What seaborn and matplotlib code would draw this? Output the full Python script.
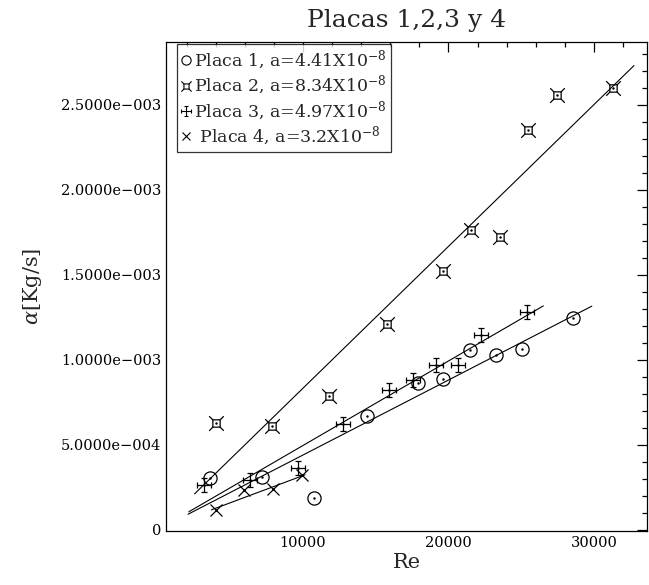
import matplotlib
matplotlib.use("Agg")
import matplotlib.pyplot as plt
from matplotlib.path import Path
from matplotlib.lines import Line2D
from matplotlib.ticker import MultipleLocator, FuncFormatter
import numpy as np
import seaborn as sns

# datos
re_1 = [3608, 7161, 10756, 14378, 17870, 19643, 21478, 23264, 25030, 28577]
alfa_1 = [3.08e-4, 3.14e-4, 1.88e-4, 6.71e-4, 8.62e-4, 8.88e-4, 1.059e-3, 1.029e-3, 1.062e-3, 1.249e-3]

re_2 = [4021, 7890, 11808, 15753, 19601, 21546, 23540, 25485, 27436, 31330]
alfa_2 = [6.27e-4, 6.12e-4, 7.88e-4, 1.212e-3, 1.525e-3, 1.765e-3, 1.722e-3, 2.353e-3, 2.559e-3, 2.598e-3]

re_3 = [3196, 6323, 9656, 12770, 15931, 17526, 19107, 20674, 22234, 25396]
alfa_3 = [2.65e-4, 2.94e-4, 3.63e-4, 6.22e-4, 8.24e-4, 8.85e-4, 9.68e-4, 9.73e-4, 1.147e-3, 1.282e-3]

re_4 = [3986, 5945, 7938, 9897]
alfa_4 = [1.18e-4, 2.35e-4, 2.41e-4, 3.24e-4]

# pendientes del ajuste (leyenda) y rango de cada recta
pendientes = [4.41e-8, 8.34e-8, 4.97e-8, 3.2e-8]
pend_txt = ["4.41", "8.34", "4.97", "3.2"]
recta_ini = [2100, 2550, 2150, 3700]
recta_fin = [29850, 32750, 26520, 10140]

# marcadores tipo IDL
sq = 0.5
m_cuadro = Path(
    [(-sq, -sq), (sq, -sq), (sq, sq), (-sq, sq), (-sq, -sq),
     (sq, sq), (1, 1), (-sq, sq), (-1, 1), (sq, -sq), (1, -1), (-sq, -sq), (-1, -1)],
    [Path.MOVETO, Path.LINETO, Path.LINETO, Path.LINETO, Path.CLOSEPOLY,
     Path.MOVETO, Path.LINETO, Path.MOVETO, Path.LINETO, Path.MOVETO, Path.LINETO,
     Path.MOVETO, Path.LINETO])
c = 0.45
m_cruz = Path(
    [(0, -1), (0, 1), (-1, 0), (1, 0),
     (-c, 1), (c, 1), (-c, -1), (c, -1), (-1, -c), (-1, c), (1, -c), (1, c)],
    [Path.MOVETO, Path.LINETO, Path.MOVETO, Path.LINETO,
     Path.MOVETO, Path.LINETO, Path.MOVETO, Path.LINETO,
     Path.MOVETO, Path.LINETO, Path.MOVETO, Path.LINETO])

sns.set_style("white")
plt.rcParams["font.family"] = ["DejaVu Serif"]
plt.rcParams["mathtext.fontset"] = "dejavuserif"

fig = plt.figure(figsize=(6.49, 5.85), dpi=100)
ax = fig.add_axes([0.2558, 0.0923, 0.7411, 0.8359])

series = [(re_1, alfa_1, "o", 9.5), (re_2, alfa_2, m_cuadro, 10.5),
          (re_3, alfa_3, m_cruz, 10), (re_4, alfa_4, "x", 8)]

for i, (xs, ys, mk, ms) in enumerate(series):
    x_r = np.array([recta_ini[i], recta_fin[i]])
    sns.lineplot(x=x_r, y=pendientes[i] * x_r, color="black", lw=0.8, ax=ax)
    ax.plot(xs, ys, ls="none", marker=mk, ms=ms, mfc="none", mec="black", mew=0.9)
    ax.plot(xs, ys, ls="none", marker=".", ms=1.5, color="black")

ax.set_xlim(584, 33643)
ax.set_ylim(-6e-6, 2.870e-3)

ax.xaxis.set_major_locator(MultipleLocator(10000))
ax.xaxis.set_minor_locator(MultipleLocator(2000))
ax.yaxis.set_major_locator(MultipleLocator(5e-4))
ax.yaxis.set_minor_locator(MultipleLocator(1e-4))


def fmt_y(v, pos):
    if abs(v) < 1e-12:
        return "0"
    m, e = f"{v:.4e}".split("e")
    return f"{m}e{int(e):+04d}".replace("-", "\u2212").replace("+", "")


ax.yaxis.set_major_formatter(FuncFormatter(fmt_y))
ax.xaxis.set_major_formatter(FuncFormatter(lambda v, p: f"{int(v)}"))

ax.tick_params(which="both", direction="in", top=True, right=True,
               colors="black", labelsize=10.5, width=0.9)
ax.tick_params(which="major", length=7)
ax.tick_params(which="minor", length=3.5)
for s in ax.spines.values():
    s.set_color("black")
    s.set_linewidth(0.9)

ax.set_xlabel("Re", fontsize=15, labelpad=2)
ax.set_ylabel(r"$\alpha$[Kg/s]", fontsize=15, labelpad=12)
ax.set_title("Placas 1,2,3 y 4", fontsize=18, pad=11)

handles = []
labels = []
for i, (xs, ys, mk, ms) in enumerate(series):
    handles.append(Line2D([], [], ls="none", marker=mk, ms=ms * 0.7, mfc="none",
                          mec="black", mew=0.8))
    sp = " " if i == 3 else ""
    labels.append(sp + f"Placa {i + 1}, a={pend_txt[i]}X10$^{{-8}}$")

leg = ax.legend(handles, labels, loc="upper left", bbox_to_anchor=(0.022, 0.995),
                fontsize=12.5, handlelength=0.6, handletextpad=0.15,
                borderpad=0.25, labelspacing=0.12, borderaxespad=0,
                frameon=True, fancybox=False)
leg.get_frame().set_edgecolor("black")
leg.get_frame().set_linewidth(0.9)

fig.savefig("out.png", dpi=100)
